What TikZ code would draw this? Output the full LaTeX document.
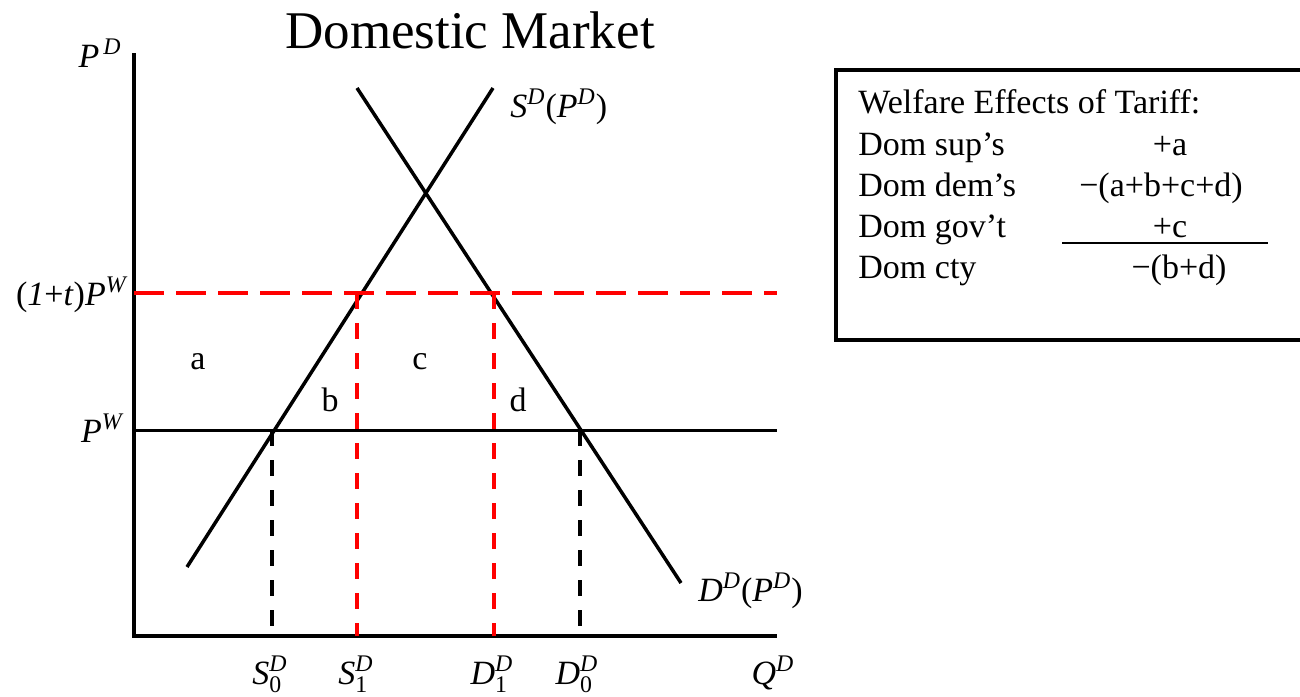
\documentclass[tikz,border=0pt]{standalone}
\usepackage{amsmath}
\usepackage{fontspec}
\setmainfont{Liberation Serif}
\newcommand{\itsup}[2]{\textit{#1}$^{\textit{#2}}$}
\newcommand{\itsupsub}[3]{\textit{#1}$^{\textit{#2}}_{\text{#3}}$}
\tikzset{
  curve/.style={line width=1.75pt, black},
  dropblack/.style={line width=2pt, black, dash pattern=on 8pt off 7pt},
  dropred/.style={line width=2pt, red, dash pattern=on 8pt off 7pt},
  tariffline/.style={line width=2pt, red, dash pattern=on 15pt off 6pt},
  lbl/.style={font=\fontsize{17}{20}\selectfont, inner sep=0pt},
  titlefont/.style={font=\fontsize{26.5}{30}\selectfont, inner sep=0pt},
}

\begin{document}
\begin{tikzpicture}[x=0.5pt, y=-0.5pt, line cap=butt, line join=miter]
\useasboundingbox (0,0) rectangle (1300,696);

% axes
\coordinate (O) at (134,636);
\coordinate (ytop) at (134,53);
\coordinate (xend) at (777,636);
\draw[curve] (ytop) -- (O) -- (xend);

% supply and demand
\coordinate (Slo) at (187,567);
\coordinate (Shi) at (493,88);
\coordinate (Dhi) at (357,88);
\coordinate (Dlo) at (681,583);
\draw[curve] (Slo) -- (Shi);
\draw[curve] (Dhi) -- (Dlo);

% world price and tariff price
\coordinate (pw) at (134,430);
\coordinate (pwend) at (777,430);
\coordinate (pt) at (134,293);
\coordinate (ptend) at (777,293);
\draw[line width=1.5pt] (pw) -- (pwend);

% quantities
\coordinate (S0) at (272,430);
\coordinate (S1) at (357,293);
\coordinate (D1) at (494,293);
\coordinate (D0) at (580,430);
\draw[dropblack] (S0) -- (S0 |- O);
\draw[dropblack] (D0) -- (D0 |- O);
\draw[dropred] (S1) -- (S1 |- O);
\draw[dropred] (D1) -- (D1 |- O);
\draw[tariffline] (pt) -- (ptend);

% labels
\node[titlefont, anchor=base] (title) at (470,48) {Domestic Market};
\node[lbl, anchor=base east] (pdlab) at (122,67) {\textit{P}$^{\,\textit{D}}$};
\node[lbl, anchor=base east] (ptlab) at (127,305) {(\textit{1}+\textit{t})\itsup{P}{W}};
\node[lbl, anchor=base east] (pwlab) at (123,442) {\itsup{P}{W}};
\node[lbl, anchor=base west] (slab) at (510,117) {\itsup{S}{D}(\itsup{P}{D})};
\node[lbl, anchor=base west] (dlab) at (698,601) {\itsup{D}{D}(\itsup{P}{D})};
\node[lbl, anchor=base] (s0lab) at (270,684) {\itsupsub{S}{D}{0}};
\node[lbl, anchor=base] (s1lab) at (356,684) {\itsupsub{S}{D}{1}};
\node[lbl, anchor=base] (d1lab) at (492,684) {\itsupsub{D}{D}{1}};
\node[lbl, anchor=base] (d0lab) at (577,684) {\itsupsub{D}{D}{0}};
\node[lbl, anchor=base] (qlab) at (773,684) {\itsup{Q}{D}};

% areas
\node[lbl] (areaA) at (198,362) {a};
\node[lbl] (areaB) at (330,400) {b};
\node[lbl] (areaC) at (420,362) {c};
\node[lbl] (areaD) at (518,400) {d};

% welfare box
\draw[line width=2pt] (836,70) rectangle (1320,340);
\node[lbl, anchor=base west] (head) at (858,113) {Welfare Effects of Tariff:};
\node[lbl, anchor=base west] (sup) at (858,155) {Dom sup’s};
\node[lbl, anchor=base west] (dem) at (858,196) {Dom dem’s};
\node[lbl, anchor=base west] (gov) at (858,237) {Dom gov’t};
\node[lbl, anchor=base west] (cty) at (858,278) {Dom cty};
\node[lbl, anchor=base] (supval) at (1170,155) {+a};
\node[lbl, anchor=base] (demval) at (1161,196) {−(a+b+c+d)};
\node[lbl, anchor=base] (govval) at (1170,237) {+c};
\node[lbl, anchor=base] (ctyval) at (1179,278) {−(b+d)};
\draw[line width=1pt] (1062,243) -- (1268,243);
\end{tikzpicture}
\end{document}
